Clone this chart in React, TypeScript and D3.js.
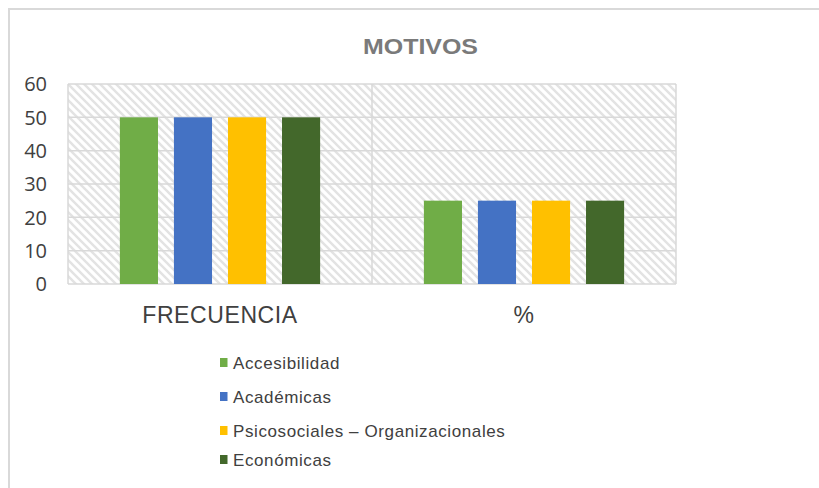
import React from "react";
import * as d3 from "d3";

const categories = ["FRECUENCIA", "%"];
const seriesNames = [
  "Accesibilidad",
  "Académicas",
  "Psicosociales – Organizacionales",
  "Económicas",
];
const seriesColors = ["#70ad47", "#4472c4", "#ffc000", "#43682b"];
const seriesValues = [
  [50, 25],
  [50, 25],
  [50, 25],
  [50, 25],
];
const yTicks = [0, 10, 20, 30, 40, 50, 60];
const titleText = "MOTIVOS";

const W = 819;
const H = 488;
const plot = { left: 68, right: 676, top: 84, bottom: 284 };

export default function App() {
  const x0 = d3
    .scaleBand<string>()
    .domain(categories)
    .range([plot.left, plot.right])
    .padding(0);
  const x1 = d3
    .scaleBand<number>()
    .domain(d3.range(seriesNames.length))
    .range([0, x0.bandwidth()])
    .paddingInner(0.295)
    .paddingOuter(0.96);
  const y = d3.scaleLinear().domain([0, 60]).range([plot.bottom, plot.top]);

  const legendBaselines = [369, 403, 437, 466];

  return (
    <svg
      width={W}
      height={H}
      style={{ position: "absolute", left: 0, top: 0, background: "#fff" }}
    >
      <defs>
        <pattern
          id="hatch"
          patternUnits="userSpaceOnUse"
          width={8}
          height={8}
        >
          <rect width={8} height={8} fill="#ffffff" />
          <path
            d="M-2,-2 L10,10 M-2,6 L2,10 M6,-2 L10,2"
            stroke="#e3e3e3"
            strokeWidth={2.4}
          />
        </pattern>
      </defs>
      {/* outer border */}
      <path
        d={`M9,${H + 2} L9,9 L${W + 2},9`}
        fill="none"
        stroke="#d9d9d9"
        strokeWidth={2}
      />
      {/* title */}
      <text
        x={363}
        y={53.5}
        fontFamily="'Liberation Sans', Arial, sans-serif"
        fontWeight="bold"
        fontSize={22}
        textLength={115}
        lengthAdjust="spacingAndGlyphs"
        fill="#7a7a7a"
      >
        {titleText}
      </text>
      {/* plot area */}
      <rect
        x={plot.left}
        y={plot.top}
        width={plot.right - plot.left}
        height={plot.bottom - plot.top}
        fill="url(#hatch)"
      />
      {yTicks.map((t) => (
        <line
          key={"g" + t}
          x1={plot.left}
          x2={plot.right}
          y1={y(t)}
          y2={y(t)}
          stroke="#d9d9d9"
          strokeWidth={1.5}
        />
      ))}
      {/* vertical category divider and edges */}
      {categories.map((c) => (
        <line
          key={"v" + c}
          x1={x0(c)!}
          x2={x0(c)!}
          y1={plot.top}
          y2={plot.bottom}
          stroke="#d9d9d9"
          strokeWidth={1.5}
        />
      ))}
      <line
        x1={plot.right}
        x2={plot.right}
        y1={plot.top}
        y2={plot.bottom}
        stroke="#d9d9d9"
        strokeWidth={1.5}
      />
      {/* bars */}
      {categories.map((c, ci) =>
        seriesNames.map((s, si) => {
          const v = seriesValues[si][ci];
          return (
            <rect
              key={c + s}
              x={x0(c)! + x1(si)!}
              y={y(v)}
              width={x1.bandwidth()}
              height={y(0) - y(v)}
              fill={seriesColors[si]}
            />
          );
        })
      )}
      {/* y tick labels */}
      {yTicks.map((t) => (
        <text
          key={"t" + t}
          x={47}
          y={y(t)}
          dy="0.36em"
          textAnchor="end"
          fontFamily="'Open Sans', sans-serif"
          fontSize={20}
          fill="#404040"
        >
          {t}
        </text>
      ))}
      {/* category labels */}
      {categories.map((c) => (
        <text
          key={"c" + c}
          x={x0(c)! + x0.bandwidth() / 2}
          y={323}
          textAnchor="middle"
          fontFamily="'Liberation Sans', Arial, sans-serif"
          fontSize={23}
          letterSpacing={0.6}
          fill="#404040"
        >
          {c}
        </text>
      ))}
      {/* legend */}
      {seriesNames.map((s, i) => (
        <g key={"l" + s}>
          <rect
            x={220}
            y={legendBaselines[i] - 11}
            width={7.5}
            height={9}
            fill={seriesColors[i]}
          />
          <text
            x={233}
            y={legendBaselines[i]}
            fontFamily="'Liberation Sans', Arial, sans-serif"
            fontSize={17}
            letterSpacing={0.6}
            fill="#404040"
          >
            {s}
          </text>
        </g>
      ))}
    </svg>
  );
}
